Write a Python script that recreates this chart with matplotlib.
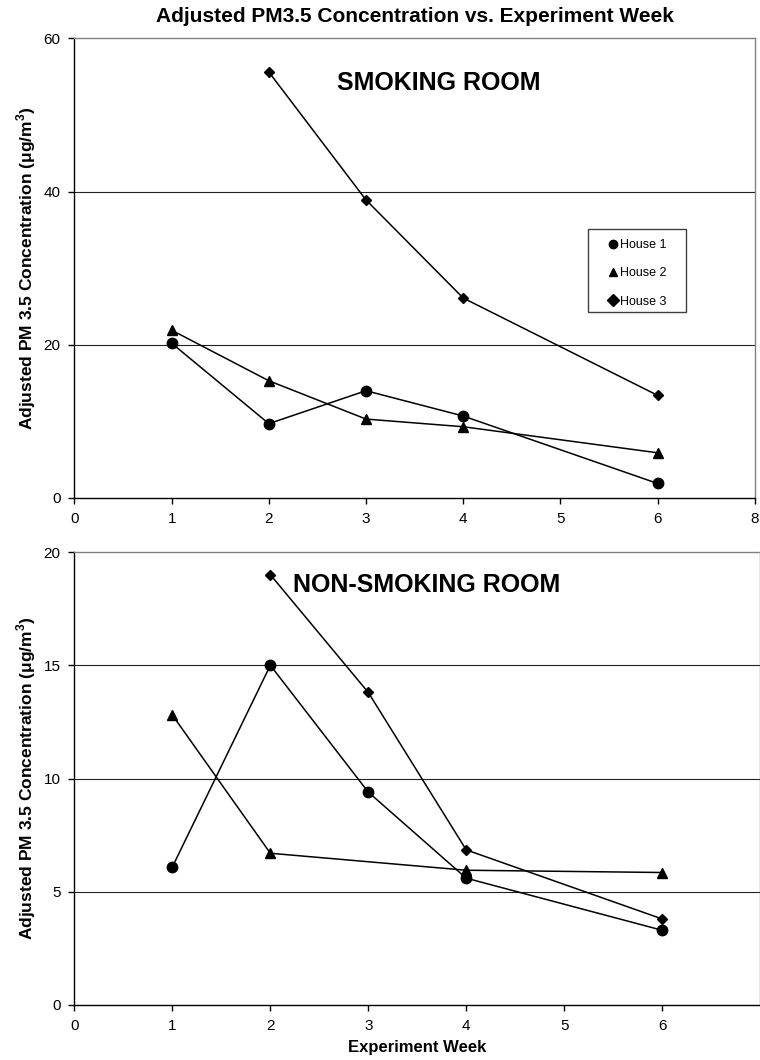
import matplotlib

matplotlib.use("Agg")
import matplotlib.pyplot as plt
from matplotlib.patches import Rectangle

# --- data ---
WEEKS_H1 = [1, 2, 3, 4, 6]
WEEKS_H2_SMOKING = [1, 2, 3, 4, 6]
WEEKS_H2_NONSMOKING = [1, 2, 4, 6]
WEEKS_H3 = [2, 3, 4, 6]

SMOKING_H1 = [20.2, 9.7, 14.0, 10.7, 1.9]
SMOKING_H2 = [21.9, 15.3, 10.3, 9.3, 5.9]
SMOKING_H3 = [55.6, 38.9, 26.1, 13.4]

NONSMOKING_H1 = [6.1, 15.0, 9.4, 5.6, 3.3]
NONSMOKING_H2 = [12.8, 6.7, 5.95, 5.85]
NONSMOKING_H3 = [19.0, 13.8, 6.85, 3.8]

SERIES_NAMES = ["House 1", "House 2", "House 3"]
TOP_XTICK_LABELS = ["0", "1", "2", "3", "4", "5", "6", "8"]
BOTTOM_XTICK_LABELS = ["0", "1", "2", "3", "4", "5", "6"]
TOP_YTICKS = [0, 20, 40, 60]
BOTTOM_YTICKS = [0, 5, 10, 15, 20]

plt.rcParams["font.family"] = ["Liberation Sans", "DejaVu Sans"]
plt.rcParams["mathtext.fontset"] = "custom"
plt.rcParams["mathtext.rm"] = "Liberation Sans:bold"
plt.rcParams["mathtext.bf"] = "Liberation Sans:bold"

MARKERS = ["o", "^", "D"]
MARKER_SIZES = [7.5, 7.5, 5.5]
YLABEL = "Adjusted PM 3.5 Concentration (\u03bcg/m$^{3}$)"


def style_axis(axis, ymax, yticks, xticks, xlabels):
    axis.set_xlim(0, 7)
    axis.set_ylim(0, ymax)
    axis.set_yticks(yticks)
    axis.set_xticks(xticks)
    axis.set_xticklabels(xlabels)
    for y in yticks[1:-1]:
        axis.axhline(y, color="#222222", linewidth=0.8, zorder=0)
    for side in ("top", "right"):
        axis.spines[side].set_color("#808080")
    for side in ("left", "bottom"):
        axis.spines[side].set_color("black")
    for spine in axis.spines.values():
        spine.set_linewidth(1.0)
    axis.tick_params(direction="out", length=4, width=1.0, labelsize=11, pad=6)
    axis.set_ylabel(YLABEL, fontsize=12.5, fontweight="bold", labelpad=4)


figure = plt.figure(figsize=(7.6, 10.6), dpi=100)
top = figure.add_axes([0.098, 0.5302, 0.895, 0.4337])
bottom = figure.add_axes([0.098, 0.0519, 0.902, 0.4273])

top_series = [(WEEKS_H1, SMOKING_H1), (WEEKS_H2_SMOKING, SMOKING_H2), (WEEKS_H3, SMOKING_H3)]
bottom_series = [(WEEKS_H1, NONSMOKING_H1), (WEEKS_H2_NONSMOKING, NONSMOKING_H2), (WEEKS_H3, NONSMOKING_H3)]

for (weeks, values), name, marker, size in zip(top_series, SERIES_NAMES, MARKERS, MARKER_SIZES):
    top.plot(weeks, values, color="black", linewidth=1.1, marker=marker, markersize=size, label=name, clip_on=False)
for (weeks, values), marker, size in zip(bottom_series, MARKERS, MARKER_SIZES):
    bottom.plot(weeks, values, color="black", linewidth=1.1, marker=marker, markersize=size, clip_on=False)

style_axis(top, 60, TOP_YTICKS, list(range(len(TOP_XTICK_LABELS))), TOP_XTICK_LABELS)
style_axis(bottom, 20, BOTTOM_YTICKS, list(range(len(BOTTOM_XTICK_LABELS))), BOTTOM_XTICK_LABELS)

# legend box drawn separately so its padding matches the original
top.add_patch(Rectangle((0.7545, 0.4046), 0.1441, 0.1804, transform=top.transAxes,
                        facecolor="white", edgecolor="#404040", linewidth=1.0, zorder=4))
legend = top.legend(
    loc="upper left",
    bbox_to_anchor=(0.784, 0.563),
    frameon=False,
    prop={"size": 9},
    handlelength=0.8,
    handletextpad=0.2,
    labelspacing=1.3,
    borderpad=0,
    borderaxespad=0,
)
legend.set_zorder(5)
for handle in legend.legend_handles:
    handle.set_linestyle("none")
    handle.set_markersize(6)

top.text(0.535, 0.903, "SMOKING ROOM", transform=top.transAxes, ha="center", va="center",
         fontsize=18, fontweight="bold")
bottom.text(0.514, 0.927, "NON-SMOKING ROOM", transform=bottom.transAxes, ha="center", va="center",
            fontsize=18, fontweight="bold")

top.set_title("Adjusted PM3.5 Concentration vs. Experiment Week", fontsize=15, fontweight="bold", pad=12)
bottom.set_xlabel("Experiment Week", fontsize=12, fontweight="bold", labelpad=5)

figure.savefig("out.png", dpi=100)
